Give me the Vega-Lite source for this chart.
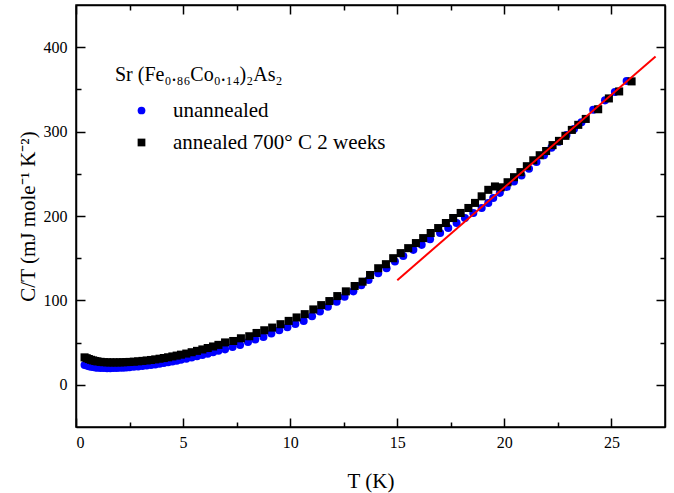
{
  "$schema": "https://vega.github.io/schema/vega-lite/v6.json",
  "width": 589,
  "height": 422,
  "autosize": {"type": "none"},
  "padding": {"left": 76, "top": 5, "right": 9, "bottom": 66},
  "background": "white",
  "config": {
    "view": {"stroke": "black", "strokeWidth": 1.5},
    "axis": {
      "grid": false,
      "domainColor": "black",
      "domainWidth": 1.5,
      "tickColor": "black",
      "tickWidth": 1.5,
      "labelColor": "black",
      "titleFont": "Liberation Serif",
      "titleFontSize": 21,
      "titleFontWeight": "normal",
      "titleColor": "black"
    }
  },
  "resolve": {"axis": {"x": "independent", "y": "independent"}},
  "datasets": {
    "pts": [
      {"T":0.40,"C":23.5,"s":"unannealed"},{"T":0.50,"C":22.8,"s":"unannealed"},{"T":0.60,"C":22.1,"s":"unannealed"},{"T":0.70,"C":21.5,"s":"unannealed"},{"T":0.80,"C":21.0,"s":"unannealed"},{"T":0.90,"C":20.6,"s":"unannealed"},{"T":1.00,"C":20.3,"s":"unannealed"},{"T":1.15,"C":20.0,"s":"unannealed"},{"T":1.30,"C":19.8,"s":"unannealed"},{"T":1.45,"C":19.7,"s":"unannealed"},{"T":1.60,"C":19.7,"s":"unannealed"},{"T":1.75,"C":19.8,"s":"unannealed"},{"T":1.90,"C":19.9,"s":"unannealed"},{"T":2.05,"C":20.1,"s":"unannealed"},{"T":2.20,"C":20.3,"s":"unannealed"},{"T":2.35,"C":20.6,"s":"unannealed"},{"T":2.50,"C":20.9,"s":"unannealed"},{"T":2.70,"C":21.3,"s":"unannealed"},{"T":2.90,"C":21.8,"s":"unannealed"},{"T":3.10,"C":22.3,"s":"unannealed"},{"T":3.30,"C":22.9,"s":"unannealed"},{"T":3.50,"C":23.5,"s":"unannealed"},{"T":3.70,"C":24.2,"s":"unannealed"},{"T":3.90,"C":25.0,"s":"unannealed"},{"T":4.10,"C":25.8,"s":"unannealed"},{"T":4.30,"C":26.7,"s":"unannealed"},{"T":4.50,"C":27.6,"s":"unannealed"},{"T":4.70,"C":28.6,"s":"unannealed"},{"T":4.90,"C":29.6,"s":"unannealed"},{"T":5.15,"C":30.9,"s":"unannealed"},{"T":5.40,"C":32.3,"s":"unannealed"},{"T":5.65,"C":33.8,"s":"unannealed"},{"T":5.90,"C":35.3,"s":"unannealed"},{"T":6.15,"C":36.9,"s":"unannealed"},{"T":6.40,"C":38.6,"s":"unannealed"},{"T":6.65,"C":40.3,"s":"unannealed"},{"T":6.96,"C":42.0,"s":"unannealed"},{"T":7.31,"C":44.8,"s":"unannealed"},{"T":7.66,"C":47.2,"s":"unannealed"},{"T":8.03,"C":50.7,"s":"unannealed"},{"T":8.37,"C":53.6,"s":"unannealed"},{"T":8.75,"C":56.7,"s":"unannealed"},{"T":9.12,"C":60.7,"s":"unannealed"},{"T":9.49,"C":64.6,"s":"unannealed"},{"T":9.87,"C":68.2,"s":"unannealed"},{"T":10.24,"C":72.1,"s":"unannealed"},{"T":10.63,"C":75.7,"s":"unannealed"},{"T":11.02,"C":81.3,"s":"unannealed"},{"T":11.39,"C":86.9,"s":"unannealed"},{"T":11.76,"C":92.4,"s":"unannealed"},{"T":12.17,"C":98.3,"s":"unannealed"},{"T":12.54,"C":104.3,"s":"unannealed"},{"T":12.95,"C":110.7,"s":"unannealed"},{"T":13.32,"C":117.9,"s":"unannealed"},{"T":13.66,"C":124.2,"s":"unannealed"},{"T":14.11,"C":132.1,"s":"unannealed"},{"T":14.50,"C":138.1,"s":"unannealed"},{"T":14.89,"C":146.0,"s":"unannealed"},{"T":15.28,"C":152.7,"s":"unannealed"},{"T":15.75,"C":159.9,"s":"unannealed"},{"T":16.14,"C":165.8,"s":"unannealed"},{"T":16.53,"C":172.6,"s":"unannealed"},{"T":17.00,"C":179.8,"s":"unannealed"},{"T":17.38,"C":185.7,"s":"unannealed"},{"T":17.77,"C":191.7,"s":"unannealed"},{"T":18.16,"C":197.6,"s":"unannealed"},{"T":18.55,"C":203.6,"s":"unannealed"},{"T":18.94,"C":209.5,"s":"unannealed"},{"T":19.25,"C":215.5,"s":"unannealed"},{"T":19.48,"C":221.4,"s":"unannealed"},{"T":19.79,"C":227.4,"s":"unannealed"},{"T":20.11,"C":234.5,"s":"unannealed"},{"T":20.45,"C":241,"s":"unannealed"},{"T":20.80,"C":248,"s":"unannealed"},{"T":21.15,"C":256,"s":"unannealed"},{"T":21.50,"C":264,"s":"unannealed"},{"T":21.85,"C":272,"s":"unannealed"},{"T":22.20,"C":281,"s":"unannealed"},{"T":22.55,"C":288,"s":"unannealed"},{"T":22.90,"C":296,"s":"unannealed"},{"T":23.25,"C":303,"s":"unannealed"},{"T":23.60,"C":311,"s":"unannealed"},{"T":24.15,"C":326,"s":"unannealed"},{"T":24.70,"C":337,"s":"unannealed"},{"T":25.16,"C":347,"s":"unannealed"},{"T":25.71,"C":360,"s":"unannealed"},
      {"T":0.40,"C":32.5,"s":"annealed"},{"T":0.50,"C":31.5,"s":"annealed"},{"T":0.60,"C":30.5,"s":"annealed"},{"T":0.70,"C":29.6,"s":"annealed"},{"T":0.80,"C":28.9,"s":"annealed"},{"T":0.90,"C":28.2,"s":"annealed"},{"T":1.00,"C":27.7,"s":"annealed"},{"T":1.15,"C":27.2,"s":"annealed"},{"T":1.30,"C":26.8,"s":"annealed"},{"T":1.45,"C":26.6,"s":"annealed"},{"T":1.60,"C":26.5,"s":"annealed"},{"T":1.75,"C":26.5,"s":"annealed"},{"T":1.90,"C":26.5,"s":"annealed"},{"T":2.05,"C":26.6,"s":"annealed"},{"T":2.20,"C":26.7,"s":"annealed"},{"T":2.35,"C":26.9,"s":"annealed"},{"T":2.50,"C":27.1,"s":"annealed"},{"T":2.70,"C":27.4,"s":"annealed"},{"T":2.90,"C":27.8,"s":"annealed"},{"T":3.10,"C":28.3,"s":"annealed"},{"T":3.30,"C":28.8,"s":"annealed"},{"T":3.50,"C":29.4,"s":"annealed"},{"T":3.70,"C":30.1,"s":"annealed"},{"T":3.90,"C":30.9,"s":"annealed"},{"T":4.10,"C":31.7,"s":"annealed"},{"T":4.30,"C":32.6,"s":"annealed"},{"T":4.50,"C":33.6,"s":"annealed"},{"T":4.70,"C":34.6,"s":"annealed"},{"T":4.90,"C":35.7,"s":"annealed"},{"T":5.15,"C":37.0,"s":"annealed"},{"T":5.40,"C":38.6,"s":"annealed"},{"T":5.65,"C":40.2,"s":"annealed"},{"T":5.90,"C":41.9,"s":"annealed"},{"T":6.15,"C":43.6,"s":"annealed"},{"T":6.40,"C":45.4,"s":"annealed"},{"T":6.65,"C":47.3,"s":"annealed"},{"T":6.96,"C":50.2,"s":"annealed"},{"T":7.34,"C":51.9,"s":"annealed"},{"T":7.70,"C":55.1,"s":"annealed"},{"T":8.09,"C":57.5,"s":"annealed"},{"T":8.43,"C":61.4,"s":"annealed"},{"T":8.79,"C":64.6,"s":"annealed"},{"T":9.16,"C":67.8,"s":"annealed"},{"T":9.55,"C":71.8,"s":"annealed"},{"T":9.93,"C":75.7,"s":"annealed"},{"T":10.30,"C":79.8,"s":"annealed"},{"T":10.68,"C":83.7,"s":"annealed"},{"T":11.08,"C":89.3,"s":"annealed"},{"T":11.45,"C":94.4,"s":"annealed"},{"T":11.83,"C":99.2,"s":"annealed"},{"T":12.20,"C":105.1,"s":"annealed"},{"T":12.60,"C":110.7,"s":"annealed"},{"T":13.01,"C":117.0,"s":"annealed"},{"T":13.38,"C":122.2,"s":"annealed"},{"T":13.73,"C":130.1,"s":"annealed"},{"T":14.11,"C":138.1,"s":"annealed"},{"T":14.47,"C":142.9,"s":"annealed"},{"T":14.81,"C":150.0,"s":"annealed"},{"T":15.16,"C":156.0,"s":"annealed"},{"T":15.51,"C":161.9,"s":"annealed"},{"T":15.87,"C":167.9,"s":"annealed"},{"T":16.21,"C":173.8,"s":"annealed"},{"T":16.56,"C":179.8,"s":"annealed"},{"T":16.91,"C":185.7,"s":"annealed"},{"T":17.27,"C":191.7,"s":"annealed"},{"T":17.61,"C":197.6,"s":"annealed"},{"T":17.96,"C":203.6,"s":"annealed"},{"T":18.32,"C":209.5,"s":"annealed"},{"T":18.63,"C":215.5,"s":"annealed"},{"T":18.94,"C":223.3,"s":"annealed"},{"T":19.25,"C":231,"s":"annealed"},{"T":19.56,"C":235,"s":"annealed"},{"T":19.83,"C":234,"s":"annealed"},{"T":20.15,"C":240,"s":"annealed"},{"T":20.45,"C":246,"s":"annealed"},{"T":20.75,"C":252,"s":"annealed"},{"T":21.05,"C":259,"s":"annealed"},{"T":21.35,"C":266,"s":"annealed"},{"T":21.65,"C":272,"s":"annealed"},{"T":21.95,"C":277,"s":"annealed"},{"T":22.25,"C":284,"s":"annealed"},{"T":22.55,"C":289,"s":"annealed"},{"T":22.85,"C":295,"s":"annealed"},{"T":23.15,"C":302,"s":"annealed"},{"T":23.45,"C":308,"s":"annealed"},{"T":23.80,"C":315,"s":"annealed"},{"T":24.38,"C":326.5,"s":"annealed"},{"T":24.88,"C":339.3,"s":"annealed"},{"T":25.36,"C":347.6,"s":"annealed"},{"T":25.94,"C":359.5,"s":"annealed"}
    ],
    "fit": [{"T": 15.0, "C": 124}, {"T": 27.06, "C": 389}]
  },
  "layer": [
    {
      "data": {"name": "pts"},
      "mark": {"type": "point", "filled": true, "opacity": 1, "size": 65},
      "encoding": {
        "x": {
          "field": "T", "type": "quantitative",
          "scale": {"domain": [0, 27.5], "nice": false, "zero": false},
          "axis": {
            "orient": "bottom", "title": "T (K)",
            "values": [0, 5, 10, 15, 20, 25],
            "tickSize": -9,
            "labelFont": "Times New Roman", "labelFontSize": 16,
            "labelPadding": 16,
            "titlePadding": 20
          }
        },
        "y": {
          "field": "C", "type": "quantitative",
          "scale": {"domain": [-50, 450], "nice": false, "zero": false},
          "axis": {
            "orient": "left", "title": "C/T (mJ mole⁻¹ K⁻²)",
            "values": [0, 100, 200, 300, 400],
            "tickSize": -9,
            "labelFont": "Times New Roman", "labelFontSize": 16,
            "labelPadding": 18,
            "titlePadding": 5
          }
        },
        "color": {
          "field": "s", "type": "nominal",
          "scale": {"domain": ["unannealed", "annealed"], "range": ["#0000ff", "#000000"]},
          "legend": {
            "title": "Sr (Fe₀.₈₆Co₀.₁₄)₂As₂",
            "orient": "none", "legendX": 39, "legendY": 60,
            "titleFont": "Liberation Serif", "titleFontSize": 20, "titleFontWeight": "normal", "titleColor": "black",
            "titlePadding": 15, "titleLimit": 400,
            "labelFont": "Times New Roman", "labelFontSize": 21, "labelColor": "black", "labelLimit": 500,
            "labelExpr": "datum.label == 'annealed' ? 'annealed 700° C 2 weeks' : datum.label",
            "symbolOffset": 16, "labelOffset": 21, "rowPadding": 10, "symbolSize": 60,
            "padding": 0
          }
        },
        "shape": {
          "field": "s", "type": "nominal",
          "scale": {"domain": ["unannealed", "annealed"], "range": ["circle", "square"]},
          "legend": {
            "title": "Sr (Fe₀.₈₆Co₀.₁₄)₂As₂",
            "orient": "none", "legendX": 39, "legendY": 60,
            "titleFont": "Liberation Serif", "titleFontSize": 20, "titleFontWeight": "normal", "titleColor": "black",
            "titlePadding": 15, "titleLimit": 400,
            "labelFont": "Times New Roman", "labelFontSize": 21, "labelColor": "black", "labelLimit": 500,
            "labelExpr": "datum.label == 'annealed' ? 'annealed 700° C 2 weeks' : datum.label",
            "symbolOffset": 16, "labelOffset": 21, "rowPadding": 10, "symbolSize": 60,
            "padding": 0
          }
        }
      }
    },
    {
      "data": {"name": "fit"},
      "mark": {"type": "line", "color": "#ff0000", "strokeWidth": 2},
      "encoding": {
        "x": {
          "field": "T", "type": "quantitative",
          "axis": {"orient": "top", "title": null, "labels": false, "values": [0, 5, 10, 15, 20, 25], "tickSize": -9}
        },
        "y": {
          "field": "C", "type": "quantitative",
          "axis": {"orient": "right", "title": null, "labels": false, "values": [0, 100, 200, 300, 400], "tickSize": -9}
        }
      }
    },
    {
      "data": {"name": "fit"},
      "mark": {"type": "line", "strokeOpacity": 0},
      "encoding": {
        "x": {
          "field": "T", "type": "quantitative",
          "axis": {"orient": "bottom", "title": null, "labels": false, "domain": false, "values": [2.5, 7.5, 12.5, 17.5, 22.5], "tickSize": -5}
        },
        "y": {
          "field": "C", "type": "quantitative",
          "axis": {"orient": "left", "title": null, "labels": false, "domain": false, "values": [50, 150, 250, 350], "tickSize": -5}
        }
      }
    },
    {
      "data": {"name": "fit"},
      "mark": {"type": "line", "strokeOpacity": 0},
      "encoding": {
        "x": {
          "field": "T", "type": "quantitative",
          "axis": {"orient": "top", "title": null, "labels": false, "domain": false, "values": [2.5, 7.5, 12.5, 17.5, 22.5], "tickSize": -5}
        },
        "y": {
          "field": "C", "type": "quantitative",
          "axis": {"orient": "right", "title": null, "labels": false, "domain": false, "values": [50, 150, 250, 350], "tickSize": -5}
        }
      }
    }
  ]
}
